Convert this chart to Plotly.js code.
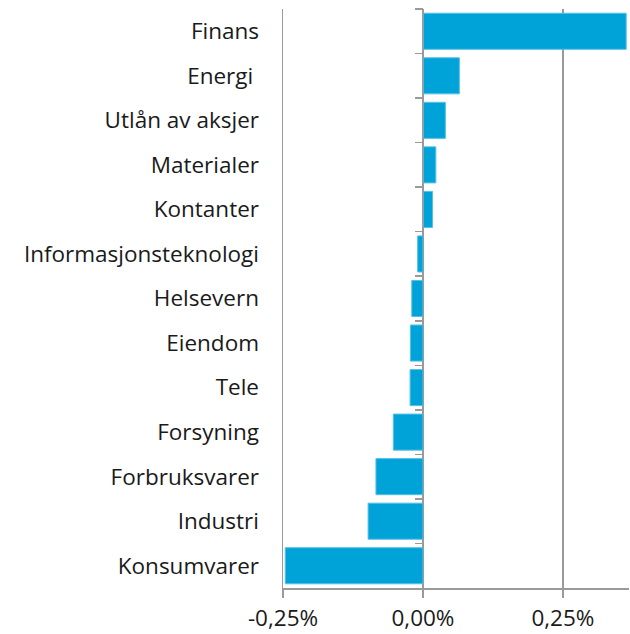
<!DOCTYPE html>
<html>
<head>
<meta charset="utf-8">
<script src="https://cdn.plot.ly/plotly-3.0.1.min.js"></script>
<style>html,body{margin:0;padding:0;background:#fff;}#chart{width:630px;height:634px;}</style>
</head>
<body>
<div id="chart"></div>
<script>
const categories = ["Finans", "Energi\u00a0", "Utlån av aksjer", "Materialer", "Kontanter",
  "Informasjonsteknologi", "Helsevern", "Eiendom", "Tele", "Forsyning",
  "Forbruksvarer", "Industri", "Konsumvarer"];
const values = [0.363, 0.065, 0.040, 0.023, 0.017, -0.0095, -0.020, -0.0225, -0.023,
  -0.053, -0.084, -0.098, -0.246];
const tickValues = [-0.25, 0, 0.25];
const tickLabels = ["-0,25%", "0,00%", "0,25%"];

const xMin = -0.25, xMax = 0.368;
const grey = "#9a9a9a";
const font = {family: "'Open Sans', sans-serif", size: 22.5, color: "#1a1a1a"};

const bars = {
  type: "bar", orientation: "h", x: values, y: categories,
  marker: {color: "#00A3D7", line: {color: "#55C0E6", width: 1}},
  xaxis: "x", yaxis: "y", hoverinfo: "skip"
};
const ghost = {
  type: "bar", orientation: "h", x: values, y: categories,
  marker: {color: "rgba(0,0,0,0)"}, xaxis: "x", yaxis: "y2", hoverinfo: "skip", showlegend: false
};

const layout = {
  width: 630, height: 634,
  margin: {l: 283, r: 1, t: 9, b: 46},
  paper_bgcolor: "#fff", plot_bgcolor: "#fff",
  showlegend: false, bargap: 0.19,
  separators: ",.",
  font: font,
  xaxis: {
    range: [xMin, xMax], tickvals: tickValues, ticktext: tickLabels,
    showgrid: true, gridcolor: grey, gridwidth: 1.5, zeroline: false,
    showline: true, linecolor: grey, linewidth: 1.5,
    ticks: "outside", ticklen: 8, tickcolor: grey, tickwidth: 1.5,
    tickfont: font, ticklabelstandoff: 1, fixedrange: true
  },
  yaxis: {
    type: "category", autorange: "reversed", categoryorder: "array", categoryarray: categories,
    showgrid: false, zeroline: false, showline: true, linecolor: grey, linewidth: 1.5,
    ticks: "", ticklabelstandoff: 18, tickfont: font, fixedrange: true
  },
  yaxis2: {
    type: "category", overlaying: "y", matches: "y", anchor: "free",
    position: (0 - xMin) / (xMax - xMin), side: "left",
    showgrid: false, zeroline: false, showline: true, linecolor: grey, linewidth: 1.5,
    ticks: "outside", tickson: "boundaries", ticklen: 8, tickcolor: grey, tickwidth: 1.5,
    showticklabels: false, fixedrange: true
  }
};

Plotly.newPlot("chart", [bars, ghost], layout, {displayModeBar: false, staticPlot: true});
</script>
</body>
</html>
